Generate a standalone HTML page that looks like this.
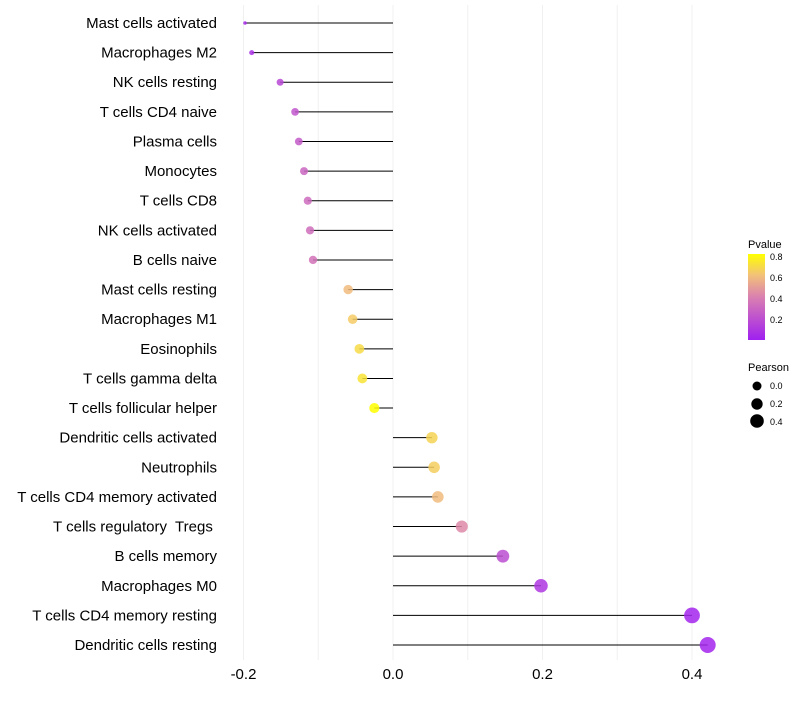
<!DOCTYPE html>
<html><head><meta charset="utf-8"><style>
body{margin:0;background:#fff;font-family:"Liberation Sans",sans-serif;}
svg text{font-family:"Liberation Sans",sans-serif;white-space:pre;}
</style></head><body>
<svg id="chart" width="800" height="700" xmlns="http://www.w3.org/2000/svg">
<defs><linearGradient id="pg" x1="0" y1="1" x2="0" y2="0">
<stop offset="0" stop-color="#A020F0"/><stop offset="0.5" stop-color="#DA80B0"/><stop offset="0.75" stop-color="#F2C07A"/><stop offset="1" stop-color="#FFFF00"/></linearGradient></defs>
<g id="grid"></g>
<g id="marks"></g>
<g id="ylabels"></g>
<g id="xlabels"></g>
<g>
<text x="748" y="248" font-size="11">Pvalue</text>
<rect x="748" y="254" width="17" height="86" fill="url(#pg)"/>
<text x="770" y="260" font-size="9">0.8</text>
<text x="770" y="281" font-size="9">0.6</text>
<text x="770" y="302" font-size="9">0.4</text>
<text x="770" y="323" font-size="9">0.2</text>
</g>
<g>
<text x="748" y="371" font-size="11">Pearson</text>
<circle cx="757" cy="386" r="4.5" fill="#000"/>
<circle cx="757" cy="404" r="5.7" fill="#000"/>
<circle cx="757" cy="421" r="6.8" fill="#000"/>
<text x="770" y="389" font-size="9">0.0</text>
<text x="770" y="407" font-size="9">0.2</text>
<text x="770" y="425" font-size="9">0.4</text>
</g>
</svg>
<script>
const categories=["Mast cells activated","Macrophages M2","NK cells resting","T cells CD4 naive","Plasma cells","Monocytes","T cells CD8","NK cells activated","B cells naive","Mast cells resting","Macrophages M1","Eosinophils","T cells gamma delta","T cells follicular helper","Dendritic cells activated","Neutrophils","T cells CD4 memory activated","T cells regulatory  Tregs ","B cells memory","Macrophages M0","T cells CD4 memory resting","Dendritic cells resting"];
const pearson=[-0.198,-0.189,-0.151,-0.131,-0.126,-0.119,-0.114,-0.111,-0.107,-0.060,-0.054,-0.045,-0.041,-0.025,0.052,0.055,0.060,0.092,0.147,0.198,0.400,0.421];
const pvalue=[0.05,0.07,0.17,0.23,0.25,0.30,0.32,0.33,0.35,0.60,0.65,0.70,0.73,0.82,0.68,0.66,0.60,0.44,0.20,0.10,0.02,0.02];
const xTicks=[-0.2,0.0,0.2,0.4];
const xTickLabels=["-0.2","0.0","0.2","0.4"];
const NS="http://www.w3.org/2000/svg";
const x=v=>393+v*747.5;
const y=i=>23+i*29.62;
function mk(t,a,p){const e=document.createElementNS(NS,t);for(const k in a)e.setAttribute(k,a[k]);p.appendChild(e);return e;}
function lerp(a,b,t){return a.map((v,i)=>Math.round(v+(b[i]-v)*t));}
const stops=[[0,[160,32,240]],[0.5,[218,128,176]],[0.75,[242,192,122]],[1,[255,255,0]]];
function col(p){const t=Math.max(0,Math.min(1,p/0.82));for(let i=1;i<stops.length;i++){if(t<=stops[i][0]){const s=stops[i-1],e=stops[i];const c=lerp(s[1],e[1],(t-s[0])/(e[0]-s[0]));return `rgb(${c})`;}}return "rgb(255,255,0)";}
const vmin=Math.min(...pearson),vmax=Math.max(...pearson);
function rad(v){const t=(v-vmin)/(vmax-vmin);return 1.8+6.2*Math.sqrt(t);}
const grid=document.getElementById('grid'),marks=document.getElementById('marks'),yl=document.getElementById('ylabels'),xl=document.getElementById('xlabels');
for(let v=-0.2;v<=0.45;v+=0.1){
 const g=mk('line',{x1:x(v),x2:x(v),y1:5,y2:660,stroke:'#f0f0f0','stroke-width':1},grid);
 
 
}
xTicks.forEach((v,i)=>{
 const t=mk('text',{x:x(v),y:679,'font-size':15,'text-anchor':'middle',fill:'#000'},xl);t.textContent=xTickLabels[i];
 
 
});
categories.forEach((c,i)=>{
 const t=mk('text',{x:217,y:y(i)+5,'font-size':15,'text-anchor':'end',fill:'#000'},yl);t.textContent=c;
 
 
 const l=mk('line',{x1:x(0),x2:x(pearson[i]),y1:y(i),y2:y(i),stroke:'#000','stroke-width':1},marks);
 
 
 const p=mk('circle',{cx:x(pearson[i]),cy:y(i),r:rad(pearson[i]),fill:col(pvalue[i]),'fill-opacity':0.85},marks);
 
 
});
</script>
</body></html>
